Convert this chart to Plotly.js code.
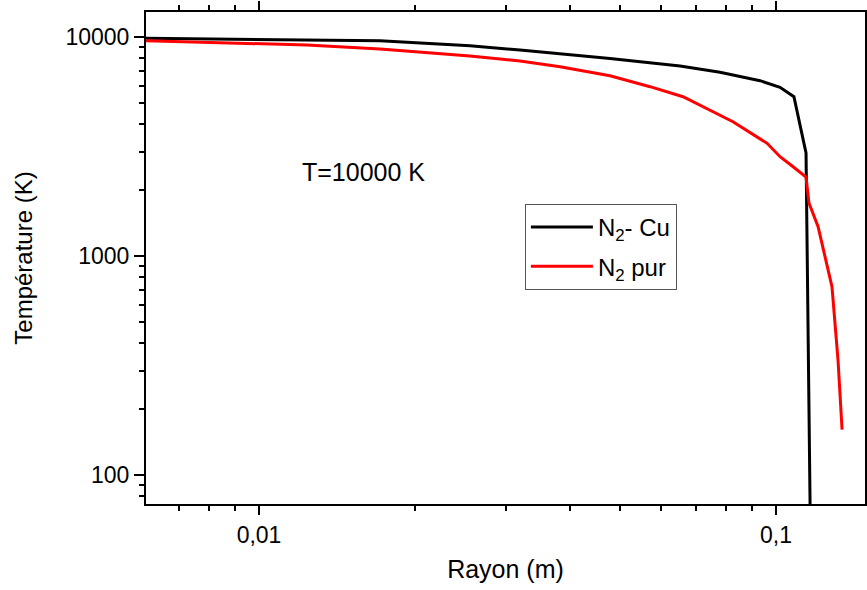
<!DOCTYPE html>
<html>
<head>
<meta charset="utf-8">
<script src="https://cdn.plot.ly/plotly-3.0.1.min.js"></script>
<style>html,body{margin:0;padding:0;background:#fff;}#chart{width:867px;height:590px;}</style>
</head>
<body>
<div id="chart"></div>
<script>
// N2 - Cu series
const cuRayon = [0.006045, 0.00919, 0.01714, 0.02559, 0.03198, 0.04774, 0.06522, 0.07792, 0.09313, 0.1018, 0.1083, 0.1143, 0.1165];
const cuTemp  = [9864, 9792, 9618, 9127, 8722, 7977, 7373, 6901, 6317, 5893, 5339, 2953, 60];
// N2 pur series
const purRayon = [0.006045, 0.01238, 0.01714, 0.02559, 0.03198, 0.03822, 0.04774, 0.05706, 0.06609, 0.08255, 0.0961, 0.1018, 0.1079, 0.1143, 0.1158, 0.1206, 0.1283, 0.1318, 0.1342];
const purTemp  = [9618, 9194, 8814, 8190, 7770, 7318, 6659, 5932, 5339, 4105, 3270, 2841, 2557, 2294, 1746, 1361, 724, 335, 161];

const names = ['N<sub>2</sub>- Cu', 'N<sub>2</sub> pur'];
const xTitle = 'Rayon (m)';
const yTitle = 'Température (K)';
const note = 'T=10000 K';

const font = 'Liberation Sans, Arial, sans-serif';

const traces = [
  {x: cuRayon, y: cuTemp, name: names[0], legendgroup: 'a', mode: 'lines', line: {color: '#000000', width: 3}},
  {x: purRayon, y: purTemp, name: names[1], legendgroup: 'b', mode: 'lines', line: {color: '#ff0000', width: 3}}
];

const layout = {
  width: 867, height: 590,
  margin: {l: 146, r: 2, t: 12, b: 86},
  paper_bgcolor: '#ffffff', plot_bgcolor: '#ffffff',
  separators: ', ',
  font: {family: font, color: '#000', size: 22},
  showlegend: true,
  legend: {
    x: 0.527, y: 0.61, xanchor: 'left', yanchor: 'top',
    bgcolor: '#ffffff', bordercolor: '#555555', borderwidth: 1,
    font: {family: font, size: 24, color: '#000'},
    itemwidth: 62,
    tracegroupgap: 5
  },
  xaxis: {
    type: 'log', range: [-2.2186, -0.8279],
    showgrid: false, zeroline: false,
    showline: true, linecolor: '#000', linewidth: 2, mirror: 'allticks',
    ticks: 'outside', ticklen: 9, tickwidth: 2, tickcolor: '#000',
    dtick: 1, tickformat: '~g',
    tickfont: {family: font, size: 23, color: '#000'},
    minor: {ticks: 'outside', ticklen: 5, tickwidth: 2, tickcolor: '#000', dtick: 'D1', showgrid: false},
    title: {text: xTitle, font: {family: font, size: 25, color: '#000'}, standoff: 14}
  },
  yaxis: {
    type: 'log', range: [1.8676, 4.1142],
    showgrid: false, zeroline: false,
    showline: true, linecolor: '#000', linewidth: 2, mirror: true,
    ticks: 'outside', ticklen: 10, tickwidth: 2, tickcolor: '#000',
    dtick: 1, tickformat: 'd',
    tickfont: {family: font, size: 23, color: '#000'},
    minor: {ticks: 'outside', ticklen: 5, tickwidth: 2, tickcolor: '#000', dtick: 'D1', showgrid: false},
    title: {text: yTitle, font: {family: font, size: 24, color: '#000'}, standoff: 26}
  },
  annotations: [{
    text: note, xref: 'paper', yref: 'paper', x: 0.303, y: 0.675,
    xanchor: 'center', yanchor: 'middle', showarrow: false,
    font: {family: font, size: 25, color: '#000'}
  }]
};

Plotly.newPlot('chart', traces, layout, {displayModeBar: false, staticPlot: true});
</script>
</body>
</html>
